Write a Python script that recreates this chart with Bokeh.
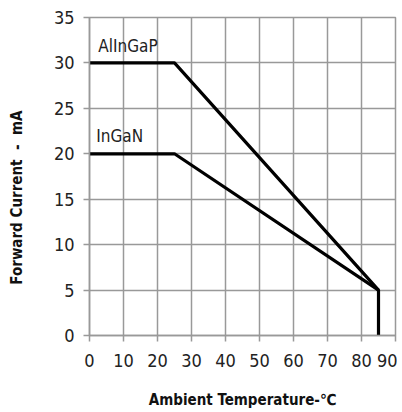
from bokeh.plotting import figure
from bokeh.models import FixedTicker, Label, Range1d
from bokeh.embed import file_html
from bokeh.resources import INLINE

# data
alingap_temp = [0, 25, 85, 85]
alingap_current = [30, 30, 5, 0]
ingan_temp = [0, 25, 85]
ingan_current = [20, 20, 5]
x_ticks = [0, 10, 20, 30, 40, 50, 60, 70, 80, 90]
y_ticks = [0, 5, 10, 15, 20, 25, 30, 35]
series_names = ["AlInGaP", "InGaN"]

FONT = "DejaVu Sans Condensed"
GRID = "#999999"
NB = "\u00a0"

p = figure(width=397, height=412, output_backend="svg", toolbar_location=None,
           x_range=Range1d(0, 90), y_range=Range1d(0, 35),
           min_border_left=89, min_border_right=2, min_border_top=17, min_border_bottom=77)
p.outline_line_color = GRID
p.outline_line_width = 1.5

for ax in (p.xaxis[0], p.yaxis[0]):
    ax.major_label_text_font = FONT
    ax.major_label_text_font_size = "18px"
    ax.major_label_text_color = "#222222"
    ax.axis_line_color = GRID
    ax.axis_line_width = 1.5
    ax.major_tick_line_color = GRID
    ax.major_tick_line_width = 1.5
    ax.major_tick_out = 6
    ax.major_tick_in = 0
    ax.minor_tick_line_color = None
    ax.axis_label_text_font = FONT
    ax.axis_label_text_font_style = "bold"
    ax.axis_label_text_font_size = "15px"
    ax.axis_label_text_color = "#111111"

p.xaxis.ticker = FixedTicker(ticks=x_ticks)
p.yaxis.ticker = FixedTicker(ticks=y_ticks)
p.xaxis.major_label_standoff = 12
p.yaxis.major_label_standoff = 9

p.xaxis.axis_label = "Ambient Temperature-℃"
p.xaxis.axis_label_standoff = 21
p.yaxis.axis_label = "Forward Current" + NB * 2 + "-" + NB * 2 + "mA" + NB * 9
p.yaxis.axis_label_standoff = 25

p.xgrid.ticker = FixedTicker(ticks=x_ticks)
p.ygrid.ticker = FixedTicker(ticks=y_ticks)
for g in (p.xgrid[0], p.ygrid[0]):
    g.grid_line_color = GRID
    g.grid_line_width = 1.5

p.line(alingap_temp, alingap_current, line_color="black", line_width=3.2)
p.line(ingan_temp, ingan_current, line_color="black", line_width=3.2)

p.add_layout(Label(x=2.6, y=30.75, text=series_names[0], text_font=FONT, text_font_size="17px",
                   text_color="#222222", text_baseline="bottom"))
p.add_layout(Label(x=2.0, y=20.9, text=series_names[1], text_font=FONT, text_font_size="17px",
                   text_color="#222222", text_baseline="bottom"))

open("out.html", "w").write(file_html(p, INLINE))
